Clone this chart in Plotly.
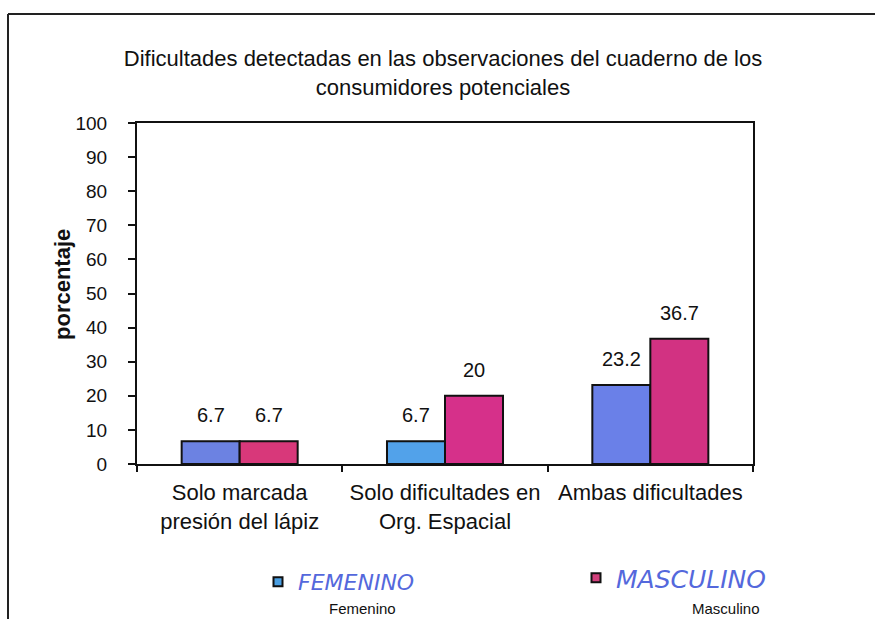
import plotly.graph_objects as go

# Data
categories = ["Solo marcada<br>presión del lápiz",
              "Solo dificultades en<br>Org. Espacial",
              "Ambas dificultades"]
femenino = [6.7, 6.7, 23.2]
masculino = [6.7, 20, 36.7]
series_names = ["Femenino", "Masculino"]

W, H = 875, 619
L, R, T, B = 137, 122, 123, 155
PW, PH = W - L - R, H - T - B
BARGAP = 0.435

def px_x(px):
    return (px - L) / PW

def px_y(py):
    return (H - B - py) / PH

FONT = "Liberation Sans, Arial, sans-serif"
fem_colors = ["#6c82e2", "#52a2ea", "#6a80e8"]
mas_colors = ["#d8387a", "#d6308a", "#d23282"]
legend_colors = ["#4a9fe2", "#d2407c"]
INK = "#5468dc"

fig = go.Figure()
fig.add_trace(go.Bar(x=categories, y=femenino, name=series_names[0],
                     marker=dict(color=fem_colors, line=dict(color="#111", width=2)),
                     showlegend=False))
fig.add_trace(go.Bar(x=categories, y=masculino, name=series_names[1],
                     marker=dict(color=mas_colors, line=dict(color="#111", width=2)),
                     showlegend=False))

# Legend swatches, one legend per series
for name, col, leg in zip(series_names, legend_colors, ("legend", "legend2")):
    fig.add_trace(go.Scatter(x=[None], y=[None], mode="markers", name=name, legend=leg,
                             marker=dict(symbol="square", size=9, color=col,
                                         line=dict(color="#111", width=2))))

# Value labels above each bar
bar_px = (1 - BARGAP) * PW / len(categories) / 2
annotations = []
for vals, shift in ((femenino, -bar_px / 2), (masculino, bar_px / 2)):
    for c, v in zip(categories, vals):
        annotations.append(dict(x=c, y=v, xref="x", yref="y", text=f"{v:g}",
                                showarrow=False, xshift=shift, yshift=26,
                                yanchor="middle", font=dict(size=20, color="#111")))

# Y axis title
annotations.append(dict(x=px_x(62), y=px_y(285), xref="paper", yref="paper",
                        xanchor="center", yanchor="middle",
                        text="<b>porcentaje</b>", textangle=-90, showarrow=False,
                        font=dict(size=22, color="#111")))

# Printed legend labels along the bottom edge
for name, px in zip(series_names, (327, 690)):
    annotations.append(dict(x=px_x(px), y=px_y(619), xref="paper", yref="paper",
                            text=name, showarrow=False, xanchor="left", yanchor="bottom",
                            font=dict(size=15, color="#111")))

legend_common = dict(orientation="h", xanchor="left", yanchor="middle",
                     bgcolor="rgba(0,0,0,0)", itemwidth=30)

fig.update_layout(
    width=W, height=H,
    margin=dict(l=L, r=R, t=T, b=B),
    paper_bgcolor="white", plot_bgcolor="white",
    font=dict(family=FONT, color="#111"),
    barmode="group", bargap=BARGAP, bargroupgap=0,
    title=dict(text="Dificultades detectadas en las observaciones del cuaderno de los<br>consumidores potenciales",
               x=px_x(443), xref="paper", xanchor="center",
               y=1 - 66 / H, yanchor="middle", yref="container",
               font=dict(size=22, color="#111")),
    xaxis=dict(showline=True, linecolor="#111", linewidth=2, mirror=True,
               ticks="outside", tickson="boundaries", ticklen=6, tickcolor="#111",
               tickwidth=1.5, tickfont=dict(size=22, color="#111"), showgrid=False,
               ticklabelstandoff=8),
    yaxis=dict(range=[0, 100], dtick=10, showline=True, linecolor="#111", linewidth=2,
               mirror=True, ticks="outside", ticklen=7, tickcolor="#111", tickwidth=1.5,
               tickfont=dict(size=19, color="#111"), showgrid=False, zeroline=False,
               ticklabelstandoff=17),
    legend=dict(**legend_common, x=px_x(258), y=px_y(582),
                font=dict(size=22, color=INK, style="italic", textcase="upper",
                          family="DejaVu Sans, sans-serif")),
    legend2=dict(**legend_common, x=px_x(576), y=px_y(578),
                 font=dict(size=25, color=INK, style="italic", textcase="upper",
                           family="DejaVu Sans, sans-serif")),
    annotations=annotations,
    shapes=[
        dict(type="line", xref="paper", yref="paper",
             x0=px_x(8), x1=px_x(W + 5), y0=px_y(14), y1=px_y(14),
             line=dict(color="#222", width=2)),
        dict(type="line", xref="paper", yref="paper",
             x0=px_x(8), x1=px_x(8), y0=px_y(14), y1=px_y(H + 5),
             line=dict(color="#222", width=2)),
    ],
)

fig.write_html("out.html")
